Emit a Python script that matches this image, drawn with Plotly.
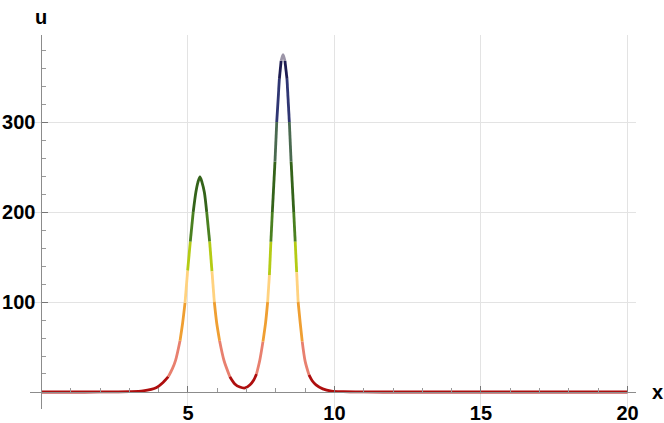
import plotly.graph_objects as go

# ---- data ----
x_vals = [0, 1, 2, 2.5, 3.0, 3.47, 3.93, 4.15, 4.33, 4.47, 4.58, 4.73, 4.82, 4.90,
          4.99, 5.08, 5.18, 5.27, 5.34, 5.41, 5.48, 5.56, 5.64, 5.74, 5.82, 5.90,
          5.98, 6.08, 6.23, 6.43, 6.60, 6.77, 6.95, 7.12, 7.24, 7.34, 7.45, 7.56,
          7.65, 7.72, 7.78, 7.83, 7.88, 7.97, 8.03, 8.12, 8.18, 8.245, 8.31, 8.38,
          8.46, 8.52, 8.61, 8.66, 8.71, 8.76, 8.83, 8.90, 9.00, 9.13, 9.24, 9.37,
          9.6, 9.9, 10.3, 11, 12, 15, 20]
u_vals = [0, 0, 0.05, 0.15, 0.3, 1.2, 5, 10.5, 17, 26, 35.5, 57, 77, 99,
          135, 167, 200, 222, 233, 239, 233, 222, 200, 167, 134, 100,
          77, 57, 35, 17, 9, 5.5, 4.5, 8, 13, 20, 35, 56,
          77, 100, 130, 167, 200, 256, 300, 348, 368, 375, 368, 348,
          300, 256, 200, 167, 133, 100, 77, 56, 34, 19, 12.5, 8,
          3.5, 1, 0.3, 0.03, 0, 0, 0]

x_ticks = [5, 10, 15, 20]
x_minor = [1, 2, 3, 4, 6, 7, 8, 9, 11, 12, 13, 14, 16, 17, 18, 19]
y_ticks = [100, 200, 300]
y_minor = [-20, 20, 40, 60, 80, 120, 140, 160, 180, 220, 240, 260, 280, 320, 340, 360, 380]

band_limits = [20, 56, 96, 136, 170, 210, 250, 280, 300, 330, 362]
band_colors = ["#AE0E0E", "#E8806F", "#EF9F32", "#FFD27F", "#B4CB14", "#4A8020",
               "#34631A", "#4A6A50", "#4E5C7A", "#2F3673", "#1E1D52", "#9C95A8"]


def band(u):
    return sum(1 for b in band_limits if u >= b)


fig = go.Figure()

# group consecutive segments by colour band
n = len(x_vals)
seg_band = [band((u_vals[i] + u_vals[i + 1]) / 2) for i in range(n - 1)]
start = 0
for i in range(1, n):
    if i == n - 1 or seg_band[i] != seg_band[start]:
        xs = x_vals[start:i + 1]
        ys = u_vals[start:i + 1]
        fig.add_trace(go.Scatter(
            x=xs, y=ys, mode="lines",
            line=dict(color=band_colors[seg_band[start]], width=2.8,
                      shape="spline", smoothing=0.8),
            showlegend=False, hoverinfo="skip"))
        start = i

xr = [-0.39, 20.29]
yr = [-18.9, 396.7]
tickfont = dict(family="Liberation Sans, Arial", size=20, color="black", weight="bold")

fig.update_layout(
    width=664, height=423, autosize=False,
    margin=dict(l=30, r=28, t=35, b=14, autoexpand=False),
    plot_bgcolor="white", paper_bgcolor="white",
    xaxis=dict(
        range=xr, anchor="free", position=(0 - yr[0]) / (yr[1] - yr[0]),
        automargin=False,
        showline=True, linecolor="#8c8c8c", linewidth=1,
        tickmode="array", tickvals=x_ticks, ticktext=[str(t) for t in x_ticks],
        ticks="inside", ticklen=6, tickcolor="#777", tickwidth=1,
        tickfont=tickfont, ticklabelstandoff=3,
        showgrid=True, gridcolor="#e3e3e3", gridwidth=1, zeroline=False,
        minor=dict(tickmode="array", tickvals=x_minor, ticks="inside",
                   ticklen=3.5, tickcolor="#999", showgrid=False),
    ),
    yaxis=dict(
        range=yr, anchor="free", position=(0 - xr[0]) / (xr[1] - xr[0]),
        automargin=False,
        showline=True, linecolor="#8c8c8c", linewidth=1,
        tickmode="array", tickvals=y_ticks, ticktext=[str(t) for t in y_ticks],
        ticks="inside", ticklen=6, tickcolor="#777", tickwidth=1,
        tickfont=tickfont, ticklabelstandoff=2,
        showgrid=True, gridcolor="#e3e3e3", gridwidth=1, zeroline=False,
        minor=dict(tickmode="array", tickvals=y_minor, ticks="inside",
                   ticklen=3.5, tickcolor="#999", showgrid=False),
    ),
    annotations=[
        dict(text="u", x=(0 - xr[0]) / (xr[1] - xr[0]), xref="paper", y=1.049, yref="paper",
             showarrow=False, font=tickfont, xanchor="center", yanchor="middle"),
        dict(text="x", x=(21.02 - xr[0]) / (xr[1] - xr[0]), xref="paper",
             y=(0 - yr[0]) / (yr[1] - yr[0]), yref="paper", showarrow=False,
             font=tickfont, xanchor="center", yanchor="middle"),
    ],
)

fig.write_html("out.html", config={"displayModeBar": False},
               post_script="document.body.style.margin='0';document.body.style.padding='0';")
